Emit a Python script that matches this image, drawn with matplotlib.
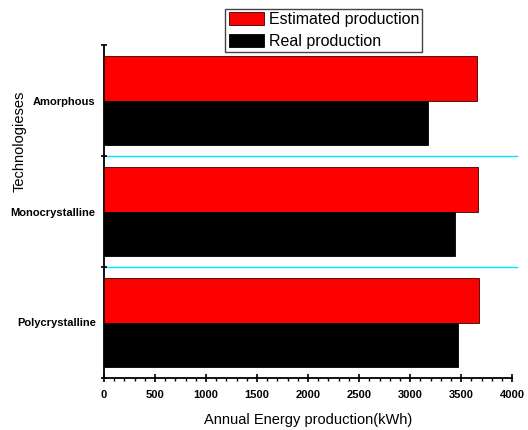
import matplotlib.pyplot as plt
from matplotlib.ticker import MultipleLocator, FixedLocator

plt.rcParams["font.family"] = ["Liberation Sans", "DejaVu Sans"]

technologies = ["Polycrystalline", "Monocrystalline", "Amorphous"]
estimated = [3679, 3669, 3656]
real = [3470, 3437, 3178]


def main():
    fig = plt.figure(figsize=(5.28, 4.30), dpi=100)
    ax = fig.add_axes([0.197, 0.121, 0.773, 0.774])

    pos = list(range(len(technologies)))
    ax.barh([p + 0.2 for p in pos], estimated, height=0.4, color="#ff0000",
            edgecolor="#3a0000", linewidth=0.6, label="Estimated production", zorder=3)
    ax.barh([p - 0.2 for p in pos], real, height=0.4, color="#000000",
            edgecolor="#000000", linewidth=0.6, label="Real production", zorder=3)

    for b in [0.5, 1.5]:
        ax.axhline(b, color="#00e5ff", linewidth=1.0, zorder=1, clip_on=False,
                   xmax=1.013)

    ax.set_xlim(0, 4000)
    ax.set_ylim(-0.5, 2.5)

    for s in ["top", "right"]:
        ax.spines[s].set_visible(False)
    ax.spines["left"].set_linewidth(1.3)
    ax.spines["bottom"].set_linewidth(1.3)

    ax.xaxis.set_major_locator(MultipleLocator(500))
    ax.xaxis.set_minor_locator(MultipleLocator(100))
    ax.tick_params(axis="x", which="major", direction="inout", length=6, width=1.2,
                   pad=6, labelsize=8)
    ax.tick_params(axis="x", which="minor", direction="out", length=2.5, width=1.0)
    for lab in ax.get_xticklabels():
        lab.set_fontweight("bold")

    ax.yaxis.set_major_locator(FixedLocator([-0.5, 0.5, 1.5, 2.5]))
    ax.yaxis.set_minor_locator(FixedLocator(pos))
    ax.set_yticklabels([], minor=False)
    ax.set_yticklabels(technologies, minor=True, fontweight="bold", fontsize=8)
    ax.tick_params(axis="y", which="major", direction="inout", length=5, width=1.2)
    ax.tick_params(axis="y", which="minor", length=0, pad=6)

    ax.set_xlabel("Annual Energy production(kWh)", fontsize=10.5, labelpad=9)
    ax.set_ylabel("Technologieses", fontsize=10.5)
    ax.yaxis.set_label_coords(-0.19, 0.712)

    fig.legend(loc="upper left", bbox_to_anchor=(0.427, 0.98), fontsize=11.5,
               frameon=True, fancybox=False, edgecolor="#444444", framealpha=1,
               handlelength=2.2, handleheight=0.9, handletextpad=0.3,
               labelspacing=0.45, borderpad=0.2, borderaxespad=0)

    fig.savefig("out.png", dpi=100)


if __name__ == "__main__":
    main()
